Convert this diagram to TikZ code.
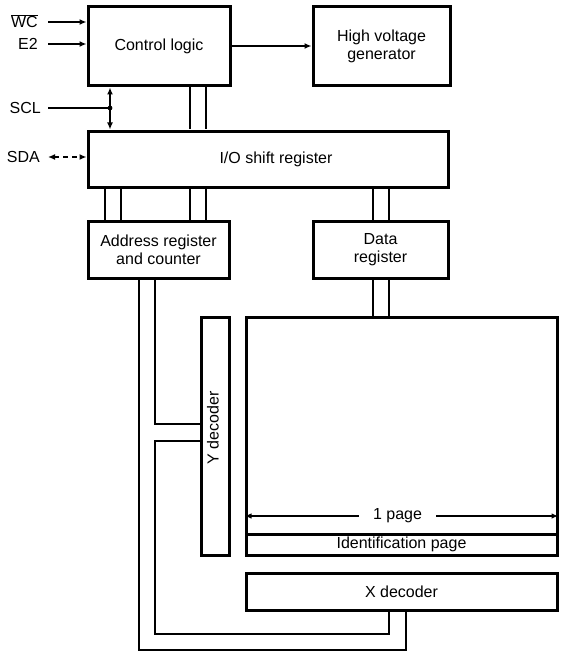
\documentclass[tikz,border=0pt]{standalone}
\usepackage{fontspec}
\setmainfont{Liberation Sans}
\usetikzlibrary{positioning,arrows.meta}
\begin{document}
\begin{tikzpicture}[x=1pt,y=-1pt,font=\fontsize{16}{18}\selectfont,
        blk/.style={draw=black,line width=3pt,inner sep=0pt,align=center},
        bus/.style={line width=2pt},
        sig/.style={line width=2pt,-{Latex[length=7pt,width=6pt]}},
        lbl/.style={inner sep=0pt,text height=11.6pt,text depth=0pt}]
        \useasboundingbox (0,0) rectangle (569,658);

        \node[blk,minimum width=142pt,minimum height=79pt] (ctrl) at (159,46.5) {Control logic};
        \node[blk,minimum width=137pt,minimum height=79pt] (hv) at (381.5,46.5) {High voltage\\generator};
        \node[blk,minimum width=360pt,minimum height=56pt,
              label={[xshift=8pt]center:I/O shift register}] (io) at (268,159) {};
        \node[blk,minimum width=141pt,minimum height=57pt] (addr) at (158.5,249.5) {Address register\\and counter};
        \node[blk,minimum width=135pt,minimum height=57pt] (data) at (380.5,249.5) {Data\\register};
        \node[blk,minimum width=311pt,minimum height=217pt] (array) at (401.5,425.5) {};
        \node[blk,minimum width=311pt,minimum height=21pt] (idpage) at (401.5,544.5) {Identification page};
        \node[blk,minimum width=28pt,minimum height=238pt] (ydec) at (215,436) {};
        \node[rotate=90] at (213,428) {Y decoder};
        \node[blk,minimum width=311pt,minimum height=37pt] (xdec) at (401.5,591.5) {X decoder};

        % inputs on the left
        \coordinate (wcin) at (48,22);
        \coordinate (e2in) at (48,44);
        \coordinate (sclin) at (48,108);
        \coordinate (sclj) at (110,108);
        \coordinate (sdain) at (48,157);
        \node[lbl,left=10pt of wcin] (wc) {$\overline{\mbox{WC}}$};
        \node[lbl,left=10pt of e2in] (e2) {E2};
        \node[lbl,left=7pt of sclin] (scl) {SCL};
        \node[lbl,left=8pt of sdain] (sda) {SDA};
        \draw[sig] (wcin) -- (wcin -| ctrl.west);
        \draw[sig] (e2in) -- (e2in -| ctrl.west);
        \draw[bus] (sclin) -- (sclj);
        \fill (sclj) circle (2.4);
        \draw[sig,{Latex[length=7pt,width=6pt]}-{Latex[length=7pt,width=6pt]}]
              (ctrl.south -| sclj) -- (io.north -| sclj);
        \draw[sig,dash pattern=on 5pt off 4pt,
              {Latex[length=7pt,width=6pt]}-{Latex[length=7pt,width=6pt]}]
              (sdain) -- (sdain -| io.west);
        \draw[sig] (ctrl.east |- 0,46) -- (hv.west |- 0,46);

        % buses
        \draw[bus] (190,0 |- ctrl.south) -- (190,0 |- io.north);
        \draw[bus] (206,0 |- ctrl.south) -- (206,0 |- io.north);
        \draw[bus] (105,0 |- io.south) -- (105,0 |- addr.north);
        \draw[bus] (121,0 |- io.south) -- (121,0 |- addr.north);
        \draw[bus] (190,0 |- io.south) -- (190,0 |- addr.north);
        \draw[bus] (206,0 |- io.south) -- (206,0 |- addr.north);
        \draw[bus] (373,0 |- io.south) -- (373,0 |- data.north);
        \draw[bus] (389,0 |- io.south) -- (389,0 |- data.north);
        \draw[bus] (373,0 |- data.south) -- (373,0 |- array.north);
        \draw[bus] (389,0 |- data.south) -- (389,0 |- array.north);
        \draw[bus] (155,0 |- addr.south) -- (155,424) -- (ydec.west |- 0,424);
        \draw[bus] (ydec.west |- 0,441) -- (155,441) -- (155,634) -- (389,634) -- (389,0 |- xdec.south);
        \draw[bus] (139,0 |- addr.south) -- (139,650) -- (406,650) -- (406,0 |- xdec.south);

        % page width
        \draw[bus,{Latex[length=7pt,width=5.5pt]}-{Latex[length=7pt,width=5.5pt]}]
              (array.west |- 0,516) -- (array.east |- 0,516)
              node[midway,fill=white,inner xsep=14pt,inner ysep=1pt,xshift=-4pt] (pg) {1 page};
\end{tikzpicture}
\end{document}
